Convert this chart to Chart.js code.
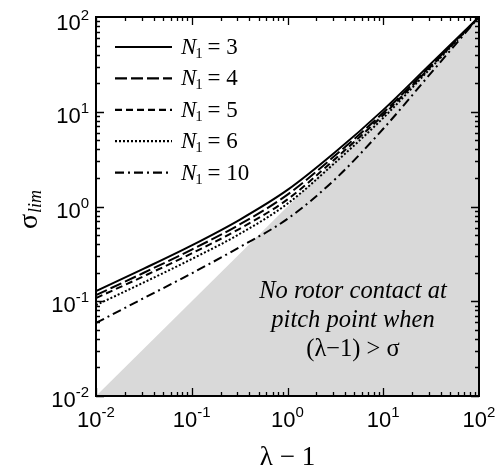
<!DOCTYPE html>
<html>
<head>
<meta charset="utf-8">
<script src="https://cdn.jsdelivr.net/npm/chart.js@4.4.1/dist/chart.umd.min.js"></script>
<style>
  html, body { margin: 0; padding: 0; background: #fff; }
  #wrap { width: 496px; height: 471px; }
</style>
</head>
<body>
<div id="wrap"><canvas id="myChart" width="496" height="471"></canvas></div>
<script>
// values
const lambdaMinus1 = [0.01, 0.0316, 0.1, 0.316, 1, 3.16, 10, 31.6, 100];
const sigmaN3 = [0.128, 0.221, 0.389, 0.724, 1.496, 3.76, 10.47, 32.4, 100];
const sigmaN4 = [0.116, 0.200, 0.351, 0.646, 1.334, 3.47, 9.77, 30.9, 100];
const sigmaN5 = [0.108, 0.184, 0.320, 0.582, 1.189, 3.20, 9.23, 30.2, 100];
const sigmaN6 = [0.091, 0.158, 0.279, 0.513, 1.072, 2.92, 8.61, 29.2, 100];
const sigmaN10 = [0.059, 0.108, 0.197, 0.372, 0.741, 1.95, 6.61, 25.7, 100];
const seriesN = [3, 4, 5, 6, 10];
const tickExponents = [-2, -1, 0, 1, 2];
// no-contact region: below sigma = lambda - 1
const shadeX = [0.01, 100];
const shadeY = [0.01, 100];

const allSigma = [sigmaN3, sigmaN4, sigmaN5, sigmaN6, sigmaN10];
const dashes = [[], [12, 4], [7, 4], [2, 2], [9, 4, 2, 4]];

const toPoints = (xs, ys) => xs.map((x, i) => ({ x: x, y: ys[i] }));

const lineSets = allSigma.map((ys, i) => {
  return {
    label: "N1 = " + seriesN[i],
    data: toPoints(lambdaMinus1, ys),
    borderColor: "#000",
    borderWidth: 2,
    borderDash: dashes[i],
    pointRadius: 0,
    cubicInterpolationMode: "monotone",
    fill: false,
    order: 0,
  };
});

const shadeSet = {
  label: "shade",
  data: toPoints(shadeX, shadeY),
  borderWidth: 0,
  borderColor: "rgba(0,0,0,0)",
  backgroundColor: "#d9d9d9",
  pointRadius: 0,
  fill: "start",
  order: 10,
};

const serif = "'Liberation Serif', 'Times New Roman', serif";
const sans = "'Liberation Sans', Arial, sans-serif";

// draws "10" with a raised exponent, centred or right aligned
const drawPow = (ctx, exp, x, midY, align) => {
  const base = "10";
  const sup = String(exp);
  ctx.font = "22px " + sans;
  const wb = ctx.measureText(base).width;
  ctx.font = "15px " + sans;
  const ws = ctx.measureText(sup).width;
  const total = wb + ws;
  let left = align === "right" ? x - total : x - total / 2;
  const baseLine = midY + 8;
  ctx.font = "22px " + sans;
  ctx.fillText(base, left, baseLine);
  ctx.font = "15px " + sans;
  ctx.fillText(sup, left + wb, baseLine - 10);
};

const framePlugin = {
  id: "frame",
  afterDatasetsDraw(chart) {
    const ctx = chart.ctx;
    const area = chart.chartArea;
    const xs = chart.scales.x;
    const ys = chart.scales.y;
    ctx.save();
    ctx.strokeStyle = "#000";
    // tick marks on all four sides, pointing inwards
    ctx.lineWidth = 1.3;
    for (let k = tickExponents[0]; k < tickExponents[tickExponents.length - 1]; k++) {
      for (let m = 1; m <= 9; m++) {
        const v = m * Math.pow(10, k);
        const len = m === 1 ? 8 : 4;
        const px = Math.round(xs.getPixelForValue(v)) + 0.5;
        const py = Math.round(ys.getPixelForValue(v)) + 0.5;
        ctx.beginPath();
        ctx.moveTo(px, area.bottom);
        ctx.lineTo(px, area.bottom - len);
        ctx.moveTo(px, area.top);
        ctx.lineTo(px, area.top + len);
        ctx.moveTo(area.left, py);
        ctx.lineTo(area.left + len, py);
        ctx.moveTo(area.right, py);
        ctx.lineTo(area.right - len, py);
        ctx.stroke();
      }
    }
    ctx.lineWidth = 2;
    ctx.strokeRect(area.left, area.top, area.right - area.left, area.bottom - area.top);

    // tick labels
    ctx.fillStyle = "#000";
    ctx.textAlign = "left";
    ctx.textBaseline = "alphabetic";
    tickExponents.forEach((e) => {
      const v = Math.pow(10, e);
      const py = ys.getPixelForValue(v);
      drawPow(ctx, e, 89, Math.max(py + 3, 22), "right");
      const px = xs.getPixelForValue(v);
      drawPow(ctx, e, px, 419, "center");
    });

    // axis titles
    ctx.font = "27px " + serif;
    ctx.textAlign = "center";
    ctx.fillText("\u03bb \u2212 1", (area.left + area.right) / 2, 465);

    ctx.save();
    ctx.translate(37, 210);
    ctx.rotate(-Math.PI / 2);
    ctx.textAlign = "left";
    ctx.font = "28px " + serif;
    const wSig = ctx.measureText("\u03c3").width;
    ctx.font = "italic 18px " + serif;
    const wLim = ctx.measureText("lim").width;
    const start = -(wSig + wLim) / 2;
    ctx.font = "28px " + serif;
    ctx.fillText("\u03c3", start, 0);
    ctx.font = "italic 18px " + serif;
    ctx.fillText("lim", start + wSig + 1, 4);
    ctx.restore();

    // legend
    chart.data.datasets.forEach((ds, i) => {
      if (i >= seriesN.length) return;
      const y = 47 + i * 31.4;
      ctx.beginPath();
      ctx.setLineDash(ds.borderDash);
      ctx.lineWidth = 2.2;
      ctx.moveTo(115, y);
      ctx.lineTo(172, y);
      ctx.stroke();
      ctx.setLineDash([]);
      ctx.textAlign = "left";
      ctx.font = "italic 23px " + serif;
      ctx.fillText("N", 181, y + 7);
      const wN = ctx.measureText("N").width;
      ctx.font = "15px " + serif;
      ctx.fillText("1", 181 + wN - 1, y + 11);
      const w1 = ctx.measureText("1").width;
      ctx.font = "23px " + serif;
      ctx.fillText(" = " + seriesN[i], 181 + wN + w1 - 2, y + 7);
    });

    // note in the shaded region
    const cx = 353;
    ctx.textAlign = "center";
    ctx.font = "italic 24.5px " + serif;
    ctx.fillText("No rotor contact at", cx, 298);
    ctx.fillText("pitch point when", cx, 327);
    ctx.font = "24.5px " + serif;
    ctx.fillText("(\u03bb\u22121) > \u03c3", cx, 356);
    ctx.restore();
  },
};

const canvas = document.getElementById("myChart").getContext("2d");
const myChart = new Chart(canvas, {
  type: "line",
  data: { datasets: lineSets.concat([shadeSet]) },
  options: {
    responsive: false,
    animation: false,
    maintainAspectRatio: false,
    layout: { padding: { left: 96, right: 17, top: 17, bottom: 75 } },
    plugins: { legend: { display: false }, tooltip: { enabled: false } },
    scales: {
      x: {
        type: "logarithmic",
        min: Math.pow(10, tickExponents[0]),
        max: Math.pow(10, tickExponents[tickExponents.length - 1]),
        ticks: { display: false },
        grid: { display: false, drawTicks: false },
        border: { display: false },
        afterFit: (s) => { s.height = 0; },
      },
      y: {
        type: "logarithmic",
        min: Math.pow(10, tickExponents[0]),
        max: Math.pow(10, tickExponents[tickExponents.length - 1]),
        ticks: { display: false },
        grid: { display: false, drawTicks: false },
        border: { display: false },
        afterFit: (s) => { s.width = 0; },
      },
    },
  },
  plugins: [framePlugin],
});
</script>
</body>
</html>
